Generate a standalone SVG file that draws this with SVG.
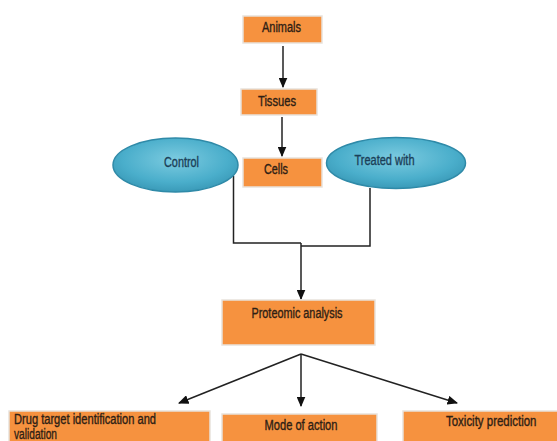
<svg xmlns="http://www.w3.org/2000/svg" width="557" height="441" viewBox="0 0 557 441">
<defs>
<radialGradient id="teal" cx="50%" cy="40%" r="60%">
<stop offset="0" stop-color="#7ccbe0"/>
<stop offset="0.7" stop-color="#4aaecb"/>
<stop offset="1" stop-color="#3a9ab8"/>
</radialGradient>
<marker id="arr" viewBox="0 0 10 10" refX="9" refY="5" markerWidth="7" markerHeight="6" orient="auto-start-reverse" preserveAspectRatio="none">
<path d="M0,0 L10,5 L0,10 z" fill="#111"/>
</marker>
</defs>
<style>
.box{fill:#f6923f;stroke:#e8e2dc;stroke-width:1.5}
.ell{fill:url(#teal);stroke:#2f8aa8;stroke-width:1.5}
.t{font-family:"Liberation Sans",Arial,sans-serif;font-size:14px;fill:#2e2014;stroke:#2e2014;stroke-width:0.35}
.te{font-family:"Liberation Sans",Arial,sans-serif;font-size:14px;fill:#1b3f58;stroke:#1b3f58;stroke-width:0.35}
.c{fill:none;stroke:#222;stroke-width:1.5}
</style>
<rect width="557" height="441" fill="#ffffff"/>
<g id="connectors">
<line class="c" x1="283" y1="46" x2="283" y2="87" marker-end="url(#arr)"/>
<line class="c" x1="282" y1="117" x2="282" y2="156" marker-end="url(#arr)"/>
<polyline class="c" points="233.5,176 233.5,243 301,243"/>
<polyline class="c" points="370,188 370,246 301,246"/>
<line class="c" x1="301" y1="243" x2="301" y2="299" marker-end="url(#arr)"/>
<line class="c" x1="301" y1="354" x2="179" y2="403" marker-end="url(#arr)"/>
<line class="c" x1="301" y1="354" x2="301" y2="406" marker-end="url(#arr)"/>
<line class="c" x1="301" y1="354" x2="457" y2="403" marker-end="url(#arr)"/>
</g>
<g id="animals">
<rect class="box" x="243" y="16" width="79" height="27"/>
<text class="t" x="262" y="32" textLength="39" lengthAdjust="spacingAndGlyphs">Animals</text>
</g>
<g id="tissues">
<rect class="box" x="241" y="89" width="76" height="26"/>
<text class="t" x="258" y="106" textLength="38" lengthAdjust="spacingAndGlyphs">Tissues</text>
</g>
<g id="cells">
<rect class="box" x="243" y="158" width="79" height="29"/>
<text class="t" x="264" y="174" textLength="24" lengthAdjust="spacingAndGlyphs">Cells</text>
</g>
<g id="control">
<ellipse class="ell" cx="175.5" cy="165" rx="62.5" ry="27"/>
<text class="te" x="164" y="167" textLength="35" lengthAdjust="spacingAndGlyphs">Control</text>
</g>
<g id="treated">
<ellipse class="ell" cx="396" cy="163" rx="69.5" ry="25.5"/>
<text class="te" x="354.5" y="165" textLength="60" lengthAdjust="spacingAndGlyphs">Treated with</text>
</g>
<g id="proteomic">
<rect class="box" x="222" y="300" width="153" height="45"/>
<text class="t" x="251.5" y="318" textLength="91" lengthAdjust="spacingAndGlyphs">Proteomic analysis</text>
</g>
<g id="drug">
<rect class="box" x="9" y="411" width="201" height="34"/>
<text class="t" x="14" y="423.5" font-size="12.5" textLength="142" lengthAdjust="spacingAndGlyphs">Drug target identification and</text>
<text class="t" x="14" y="438.5" font-size="12" textLength="43" lengthAdjust="spacingAndGlyphs">validation</text>
</g>
<g id="mode">
<rect class="box" x="222" y="414" width="155" height="31"/>
<text class="t" x="264.5" y="430" textLength="73" lengthAdjust="spacingAndGlyphs">Mode of action</text>
</g>
<g id="toxicity">
<rect class="box" x="403" y="411" width="158" height="34"/>
<text class="t" x="446" y="426" textLength="90.5" lengthAdjust="spacingAndGlyphs">Toxicity prediction</text>
</g>
</svg>
